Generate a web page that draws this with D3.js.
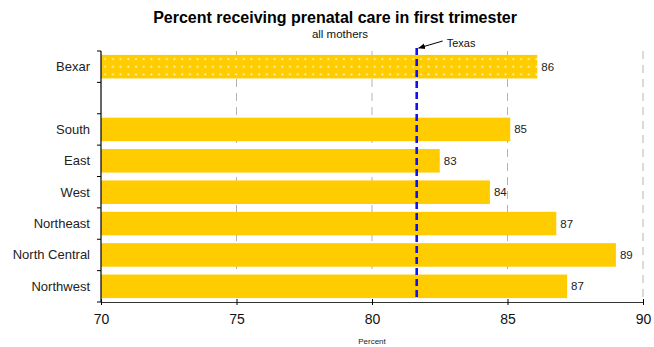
<!DOCTYPE html>
<html>
<head>
<meta charset="utf-8">
<script src="https://cdn.jsdelivr.net/npm/d3@7"></script>
<style>
  html, body { margin: 0; padding: 0; background: #fff; }
  svg { display: block; font-family: "Liberation Sans", Arial, sans-serif; }
</style>
</head>
<body>
<svg id="chart" width="654" height="347"></svg>
<script>
// Regions shown on the chart (blank row separates Bexar from its sub-regions)
const categories = ["Bexar", " ", "South", "East", "West", "Northeast", "North Central", "Northwest"];
const values = [86.1, null, 85.1, 82.5, 84.35, 86.8, 89.0, 87.2];
const xTicks = [70, 75, 80, 85, 90];
const texasValue = 81.65;

const svg = d3.select("#chart");
const margin = { left: 101, right: 11, top: 51, bottom: 45 };
const W = 654, H = 347;
const x0 = margin.left, x1 = W - margin.right, y0 = margin.top, y1 = H - margin.bottom;

const x = d3.scaleLinear().domain([70, 90]).range([x0, x1]);
const y = d3.scaleBand().domain(categories).range([y0, y1]).paddingInner(0.25).paddingOuter(0.125);

// Dotted fill for the county bar
const defs = svg.append("defs");
const pat = defs.append("pattern")
  .attr("id", "dots").attr("patternUnits", "userSpaceOnUse")
  .attr("width", 7.7).attr("height", 7.7).attr("x", x0 + 1).attr("y", y("Bexar") + 1);
pat.append("rect").attr("width", 7.7).attr("height", 7.7).attr("fill", "#ffcc00");
pat.append("circle").attr("cx", 3.2).attr("cy", 3.2).attr("r", 1).attr("fill", "#fff").attr("opacity", 0.85);

// Title
svg.append("text").attr("x", 335).attr("y", 23).attr("text-anchor", "middle")
  .attr("font-size", 16).attr("font-weight", "bold").attr("fill", "#000")
  .text("Percent receiving prenatal care in first trimester");
svg.append("text").attr("x", 340).attr("y", 38).attr("text-anchor", "middle")
  .attr("font-size", 11.5).attr("fill", "#111").text("all mothers");

// Vertical dashed gridlines
svg.append("g").selectAll("line").data(xTicks.filter(t => t > 70)).join("line")
  .attr("x1", d => x(d)).attr("x2", d => x(d))
  .attr("y1", y0).attr("y2", y1)
  .attr("stroke", "#b4b4b4").attr("stroke-width", 1).attr("stroke-dasharray", "8,6");

// Bars
const data = categories.map((c, i) => ({ c, v: values[i] })).filter(d => d.v != null);
svg.append("g").selectAll("rect").data(data).join("rect")
  .attr("x", x(70)).attr("y", d => y(d.c))
  .attr("width", d => x(d.v) - x(70)).attr("height", y.bandwidth())
  .attr("fill", d => d.c === "Bexar" ? "url(#dots)" : "#ffcc00");

// Value labels
svg.append("g").selectAll("text").data(data).join("text")
  .attr("x", d => x(d.v) + 4).attr("y", d => y(d.c) + y.bandwidth() / 2)
  .attr("dy", "0.35em").attr("font-size", 11.5).attr("fill", "#222")
  .text(d => d3.format(".0f")(d.v));

// Texas reference line
svg.append("line")
  .attr("x1", x(texasValue)).attr("x2", x(texasValue))
  .attr("y1", 48).attr("y2", y1 - 1)
  .attr("stroke", "#1010f0").attr("stroke-width", 2.6).attr("stroke-dasharray", "7,4");

defs.append("marker").attr("id", "arrow").attr("viewBox", "0 0 10 10")
  .attr("refX", 9).attr("refY", 5).attr("markerWidth", 7).attr("markerHeight", 7)
  .attr("orient", "auto")
  .append("path").attr("d", "M0,1 L10,5 L0,9 Z").attr("fill", "#000");
svg.append("line")
  .attr("x1", x(texasValue) + 26).attr("y1", 41)
  .attr("x2", x(texasValue) + 2).attr("y2", 48)
  .attr("stroke", "#000").attr("stroke-width", 1).attr("marker-end", "url(#arrow)");
svg.append("text").attr("x", x(texasValue) + 30).attr("y", 47)
  .attr("font-size", 11).attr("fill", "#111").text("Texas");

// Left axis: line, boundary ticks, category labels
const yAxis = svg.append("g");
yAxis.append("line").attr("x1", x0).attr("x2", x0).attr("y1", y0).attr("y2", y1)
  .attr("stroke", "#000").attr("stroke-width", 1.2);
const bounds = d3.range(categories.length + 1).map(i => y0 + i * y.step());
yAxis.selectAll("line.tick").data(bounds).join("line").attr("class", "tick")
  .attr("x1", x0 - 4).attr("x2", x0).attr("y1", d => d).attr("y2", d => d)
  .attr("stroke", "#000").attr("stroke-width", 1);
yAxis.selectAll("text").data(categories).join("text")
  .attr("x", 90).attr("y", d => y(d) + y.bandwidth() / 2).attr("dy", "0.35em")
  .attr("text-anchor", "end").attr("font-size", 13).attr("fill", "#222")
  .text(d => d.trim());

// Bottom axis
const xAxis = svg.append("g").attr("transform", `translate(0,${y1})`)
  .call(d3.axisBottom(x).tickValues(xTicks).tickSize(3).tickSizeOuter(0).tickPadding(9));
xAxis.select(".domain").attr("stroke", "#333").attr("stroke-width", 1.2);
xAxis.selectAll(".tick line").attr("y1", -3).attr("stroke", "#000");
xAxis.selectAll(".tick text").attr("font-size", 14).attr("fill", "#111")
  .attr("font-family", "'Liberation Sans', Arial, sans-serif");

svg.append("text").attr("x", x(80)).attr("y", 344).attr("text-anchor", "middle")
  .attr("font-size", 8).attr("fill", "#222").text("Percent");
</script>
</body>
</html>
